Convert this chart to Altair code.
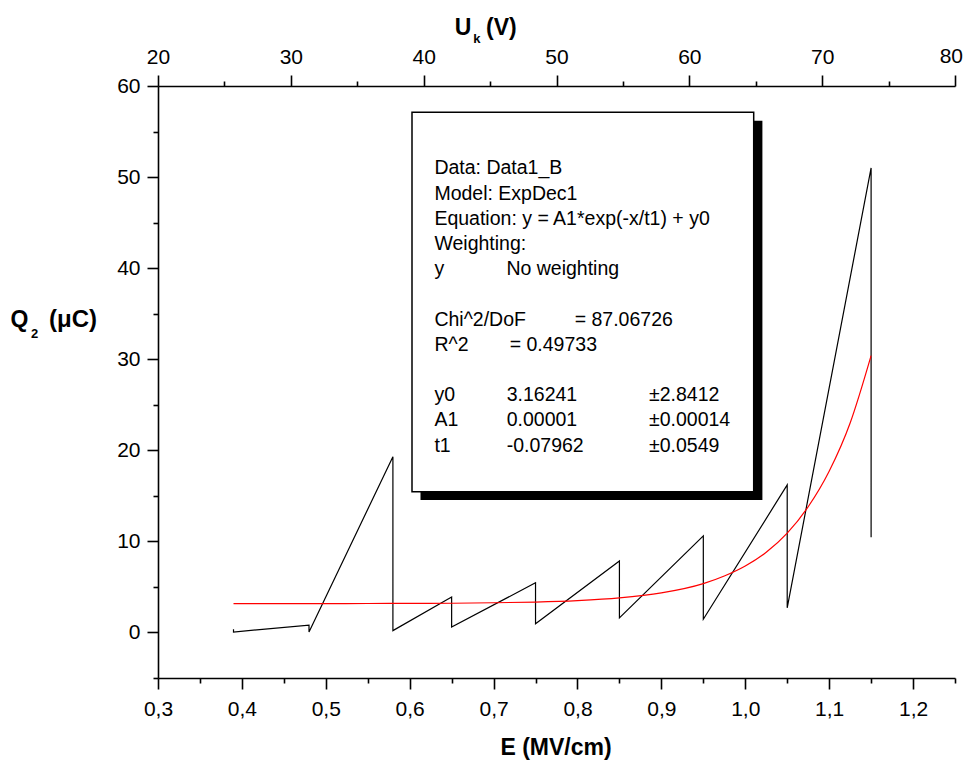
import altair as alt
import pandas as pd

# ---- data ----
E_data = [0.39, 0.39, 0.48, 0.48, 0.58, 0.58, 0.65, 0.65, 0.75, 0.75,
          0.85, 0.85, 0.95, 0.95, 1.05, 1.05, 1.15, 1.15]
Q_data = [0.35, 0.05, 0.8, 0.05, 19.3, 0.2, 3.9, 0.6, 5.45, 0.95,
          7.85, 1.6, 10.6, 1.45, 16.2, 2.7, 51.0, 10.45]

E_fit = [0.39, 0.45, 0.5, 0.55, 0.6, 0.65, 0.7, 0.75, 0.8, 0.85, 0.9,
         0.95, 0.975, 1.0, 1.025, 1.05, 1.075, 1.1, 1.125, 1.15]
Q_fit = [3.16, 3.17, 3.17, 3.18, 3.19, 3.21, 3.26, 3.34, 3.5, 3.79, 4.34,
         5.36, 6.2, 7.3, 8.8, 10.9, 13.8, 17.7, 23.0, 30.4]

E_domain = [0.3, 1.25]
Q_domain = [-5, 60]
U_domain = [20, 80]
E_major = [0.3, 0.4, 0.5, 0.6, 0.7, 0.8, 0.9, 1.0, 1.1, 1.2]
E_minor = [0.35, 0.45, 0.55, 0.65, 0.75, 0.85, 0.95, 1.05, 1.15, 1.25]
Q_major = [0, 10, 20, 30, 40, 50, 60]
Q_minor = [-5, 5, 15, 25, 35, 45, 55]
U_major = [20, 30, 40, 50, 60, 70, 80]
U_minor = [25, 35, 45, 55, 65, 75]
U_last_label = "80"

box_col1 = ["Data: Data1_B", "Model: ExpDec1", "Equation: y = A1*exp(-x/t1) + y0",
            "Weighting:", "y", "Chi^2/DoF", "R^2", "y0", "A1", "t1"]
box_col2 = ["No weighting", "= 87.06726", "=  0.49733", "3.16241", "0.00001", "-0.07962"]
box_col3 = ["\u00b12.8412", "\u00b10.00014", "\u00b10.0549"]

FONT = "Liberation Sans"

df = pd.DataFrame({"E": E_data, "Q": Q_data, "order": list(range(len(E_data)))})
fit = pd.DataFrame({"E": E_fit, "Q": Q_fit})
top_df = pd.DataFrame({"U": U_domain})

xs = alt.Scale(domain=E_domain, nice=False, zero=False)
ys = alt.Scale(domain=Q_domain, nice=False, zero=False)
us = alt.Scale(domain=U_domain, nice=False, zero=False)

ax = dict(grid=False, domainColor="black", tickColor="black", labelColor="black",
          labelFont=FONT, labelFontSize=21, domainWidth=1.6, tickWidth=1.6,
          labelFlush=False, labelOverlap=False)

black = alt.Chart(df).mark_line(color="black", strokeWidth=1.2).encode(
    x=alt.X("E:Q", scale=xs, axis=alt.Axis(orient="bottom", values=E_major, tickSize=11,
            labelPadding=9, title=None,
            labelExpr="replace(format(datum.value, '.1f'), '.', ',')", **ax)),
    y=alt.Y("Q:Q", scale=ys, axis=alt.Axis(orient="left", values=Q_major, tickSize=11,
            labelPadding=7, title=None, **ax)),
    order=alt.Order("order:Q"),
)

red = alt.Chart(fit).mark_line(color="#ff0000", strokeWidth=1.2, interpolate="monotone").encode(
    x=alt.X("E:Q", scale=xs, axis=None),
    y=alt.Y("Q:Q", scale=ys, axis=None),
)

minor = alt.Chart(df).mark_point(opacity=0).encode(
    x=alt.X("E:Q", scale=xs, axis=alt.Axis(orient="bottom", values=E_minor, tickSize=5,
            labels=False, domain=False, title=None, **ax)),
    y=alt.Y("Q:Q", scale=ys, axis=alt.Axis(orient="left", values=Q_minor, tickSize=5,
            labels=False, domain=False, title=None, **ax)),
)

top = alt.Chart(top_df).mark_point(opacity=0).encode(
    x=alt.X("U:Q", scale=us, axis=alt.Axis(orient="top", values=U_major, tickSize=11,
            labelPadding=8, title=None, format="d",
            labelExpr="datum.value == 80 ? '' : datum.label", **ax)),
)
top_minor = alt.Chart(top_df).mark_point(opacity=0).encode(
    x=alt.X("U:Q", scale=us, axis=alt.Axis(orient="top", values=U_minor, tickSize=5,
            labels=False, domain=False, title=None, **ax)),
)

one = alt.Data(values=[{}])

# last top label drawn by hand so that it stays inside the page
last_top = alt.Chart(one).mark_text(
    text=U_last_label, font=FONT, fontSize=21, align="right", baseline="bottom", color="black"
).encode(x=alt.value(805), y=alt.value(-19))

shadow = alt.Chart(one).mark_rect(color="black").encode(
    x=alt.value(262.5), x2=alt.value(604.4), y=alt.value(34.8), y2=alt.value(414))
box = alt.Chart(one).mark_rect(fill="white", stroke="black", strokeWidth=1.5).encode(
    x=alt.value(254), x2=alt.value(595.7), y=alt.value(26.3), y2=alt.value(405.7))


def txt(s, x, y, size=19.5, bold=False):
    return alt.Chart(one).mark_text(
        text=s, font=FONT, fontSize=size, fontWeight="bold" if bold else "normal",
        align="left", baseline="alphabetic", color="black"
    ).encode(x=alt.value(x), y=alt.value(y))


row_y = [81.5, 106.7, 131.9, 157.1, 182.3, 232.7, 257.9, 308.3, 333.5, 358.7]
off = 6.9  # cap centre -> baseline
texts = []
for s, yy in zip(box_col1, row_y):
    texts.append(txt(s, 276.4, yy + off))
texts.append(txt(box_col2[0], 348.4, row_y[4] + off))
texts.append(txt(box_col2[1], 416.7, row_y[5] + off))
texts.append(txt(box_col2[2], 351.7, row_y[6] + off))
for s, yy in zip(box_col2[3:], row_y[7:]):
    texts.append(txt(s, 348.7, yy + off))
for s, yy in zip(box_col3, row_y[7:]):
    texts.append(txt(s, 491.0, yy + off))

# axis titles
titles = [
    alt.Chart(one).mark_text(text="E (MV/cm)", font=FONT, fontSize=23, fontWeight="bold",
                             align="center", baseline="alphabetic", color="black"
                             ).encode(x=alt.value(398), y=alt.value(669)),
    txt("Q", -147.5, 241, size=23, bold=True),
    txt("2", -127.0, 252, size=13, bold=True),
    txt("(\u03bcC)", -109, 241, size=24, bold=True),
    txt("U", 296.7, -51, size=23, bold=True),
    txt("k", 315.2, -42.7, size=13, bold=True),
    txt("(V)", 328.1, -51, size=23, bold=True),
]

chart = alt.layer(
    black, red, minor, top, top_minor, last_top, shadow, box, *texts, *titles
).resolve_scale(
    x="independent", y="independent"
).properties(
    width=797, height=592,
    autosize="none",
    padding={"left": 150, "top": 78, "right": 8, "bottom": 90},
).configure_view(stroke=None)

chart.save("out.html", embed_options={"renderer": "svg", "actions": False})
